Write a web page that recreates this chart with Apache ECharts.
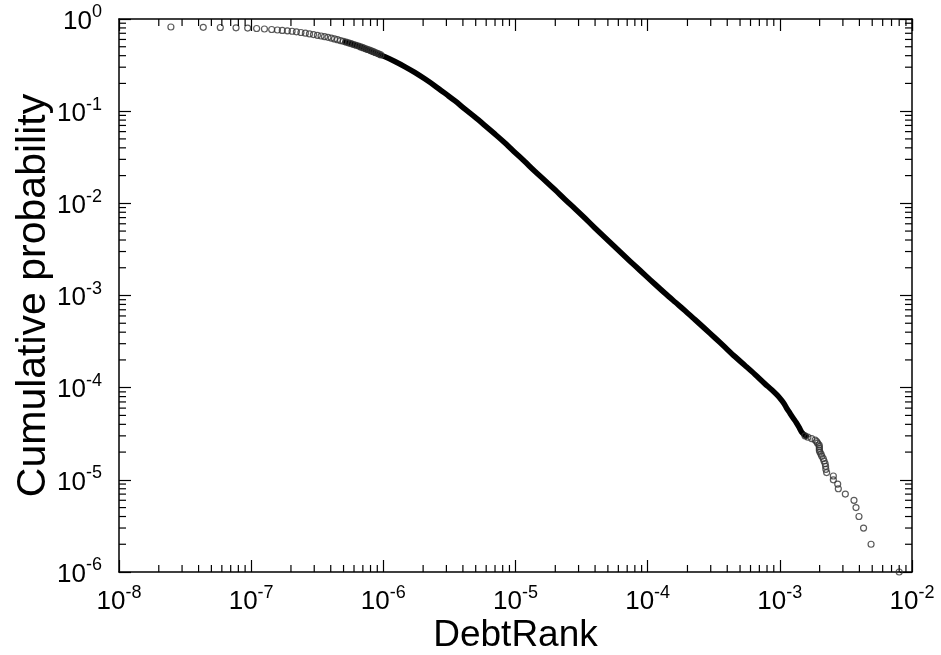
<!DOCTYPE html>
<html>
<head>
<meta charset="utf-8">
<script src="https://cdn.jsdelivr.net/npm/echarts@6/dist/echarts.min.js"></script>
<style>html,body{margin:0;padding:0;background:#fff;}#c{width:941px;height:655px;}</style>
</head>
<body>
<div id="c"></div>
<script>
// ---- data ----
const headX = [2.47e-8, 4.34e-8, 5.84e-8, 7.68e-8, 9.41e-8, 1.10e-7, 1.26e-7, 1.43e-7, 1.58e-7, 1.72e-7,
  1.88e-7, 2.04e-7, 2.20e-7, 2.38e-7, 2.57e-7, 2.76e-7, 2.96e-7, 3.17e-7, 3.38e-7, 3.59e-7,
  3.81e-7, 4.04e-7, 4.27e-7, 4.50e-7, 4.74e-7, 4.98e-7, 5.22e-7, 5.46e-7, 5.71e-7, 5.97e-7,
  6.22e-7, 6.49e-7, 6.75e-7, 7.02e-7, 7.29e-7, 7.56e-7, 7.85e-7, 8.12e-7, 8.41e-7, 8.69e-7,
  8.99e-7, 9.27e-7, 9.57e-7];
const headY = [0.819, 0.813, 0.809, 0.803, 0.797, 0.789, 0.779, 0.769, 0.760, 0.752,
  0.745, 0.736, 0.726, 0.714, 0.701, 0.689, 0.677, 0.665, 0.654, 0.643,
  0.632, 0.621, 0.608, 0.596, 0.584, 0.573, 0.562, 0.551, 0.540, 0.529,
  0.519, 0.508, 0.498, 0.488, 0.478, 0.469, 0.460, 0.451, 0.442, 0.433,
  0.424, 0.416, 0.408];
const bodyX = [5.13e-7, 6.10e-7, 7.27e-7, 8.65e-7, 1.03e-6, 1.225e-6, 1.46e-6, 1.74e-6, 2.07e-6, 2.46e-6,
  3.02e-6, 3.49e-6, 4.15e-6, 4.94e-6, 5.88e-6, 7.00e-6, 8.33e-6, 9.91e-6, 1.18e-5, 1.40e-5,
  1.67e-5, 1.99e-5, 2.37e-5, 2.82e-5, 3.36e-5, 3.99e-5, 4.75e-5, 5.66e-5, 6.74e-5, 8.02e-5,
  9.54e-5, 1.14e-4, 1.35e-4, 1.61e-4, 1.92e-4, 2.28e-4, 2.71e-4, 3.23e-4, 3.85e-4, 4.58e-4,
  5.45e-4, 6.49e-4, 7.72e-4, 8.72e-4, 9.52e-4, 1.02e-3, 1.075e-3, 1.13e-3, 1.19e-3, 1.26e-3,
  1.33e-3, 1.40e-3, 1.46e-3, 1.52e-3, 1.58e-3];
const bodyY = [0.566, 0.524, 0.474, 0.429, 0.389, 0.346, 0.303, 0.262, 0.223, 0.188,
  0.151, 0.129, 0.105, 0.086, 0.0697, 0.0563, 0.0452, 0.0357, 0.0282, 0.0223,
  0.0177, 0.0140, 0.0110, 0.00873, 0.00688, 0.00541, 0.00427, 0.00336, 0.00265, 0.00210,
  0.00167, 0.00132, 0.00106, 8.50e-4, 6.83e-4, 5.47e-4, 4.37e-4, 3.47e-4, 2.74e-4, 2.17e-4,
  1.74e-4, 1.39e-4, 1.10e-4, 9.44e-5, 8.33e-5, 7.44e-5, 6.74e-5, 5.94e-5, 5.31e-5, 4.69e-5,
  4.19e-5, 3.70e-5, 3.30e-5, 3.10e-5, 2.97e-5];
const tailX = [1.55e-3, 1.63e-3, 1.74e-3, 1.85e-3, 1.90e-3, 1.93e-3, 1.98e-3, 1.99e-3, 1.99e-3, 1.99e-3,
  2.01e-3, 2.05e-3, 2.08e-3, 2.13e-3, 2.16e-3, 2.20e-3, 2.22e-3, 2.23e-3, 2.26e-3, 2.54e-3,
  2.54e-3, 2.74e-3, 2.77e-3, 3.13e-3, 3.64e-3, 3.77e-3, 3.97e-3, 4.30e-3, 4.90e-3, 8.0e-3];
const tailY = [30e-6, 29e-6, 28e-6, 27e-6, 26e-6, 25e-6, 24e-6, 23e-6, 22e-6, 21e-6,
  20e-6, 19e-6, 18e-6, 17e-6, 16e-6, 15e-6, 14e-6, 13e-6, 12e-6, 11e-6,
  10e-6, 9e-6, 8e-6, 7e-6, 6e-6, 5e-6, 4e-6, 3e-6, 2e-6, 1e-6];
const xTickExponents = [-8, -7, -6, -5, -4, -3, -2];
const yTickExponents = [-6, -5, -4, -3, -2, -1, 0];
const xTitle = 'DebtRank';
const yTitle = 'Cumulative probability';

// ---- chart ----
const X_MIN = Math.pow(10, xTickExponents[0]), X_MAX = Math.pow(10, xTickExponents[xTickExponents.length - 1]);
const Y_MIN = Math.pow(10, yTickExponents[0]), Y_MAX = Math.pow(10, yTickExponents[yTickExponents.length - 1]);
const FONT = '"Liberation Sans", Arial, Helvetica, sans-serif';

function minorValues(exps) {
  const out = [];
  for (let i = 0; i < exps.length - 1; i++) {
    for (let k = 2; k <= 9; k++) out.push(k * Math.pow(10, exps[i]));
  }
  return out;
}
const xMinor = minorValues(xTickExponents);
const yMinor = minorValues(yTickExponents);

function labelFmt(exps) {
  return function (v) {
    const e = Math.round(Math.log10(v));
    const idx = exps.indexOf(e);
    if (idx < 0) return '';
    return '{b|10}{s|' + exps[idx] + '}';
  };
}
const rich = {
  b: { fontSize: 26, fontFamily: FONT, color: '#000', verticalAlign: 'bottom' },
  s: { fontSize: 18, fontFamily: FONT, color: '#000', verticalAlign: 'bottom', padding: [0, 0, 13, 0] }
};
const lineStyle = { color: '#000', width: 1.5 };
const tickStyle = { color: '#000', width: 1.2 };

function pairs(xs, ys) { return xs.map((x, i) => [x, ys[i]]); }

const chart = echarts.init(document.getElementById('c'), null, { renderer: 'canvas' });
chart.setOption({
  animation: false,
  backgroundColor: '#fff',
  grid: { left: 119, top: 19, width: 793, height: 553, containLabel: false, outerBoundsMode: 'none' },
  xAxis: [
    {
      type: 'log', logBase: 10, min: X_MIN, max: X_MAX, interval: 1, position: 'bottom',
      name: xTitle, nameLocation: 'middle', nameGap: 45, nameMoveOverlap: false,
      nameTextStyle: { fontSize: 37, fontFamily: FONT, color: '#000' },
      axisLine: { show: true, lineStyle: lineStyle },
      axisTick: { show: true, inside: true, length: 12, lineStyle: tickStyle },
      axisLabel: { show: true, margin: 12, formatter: labelFmt(xTickExponents), rich: rich, showMinLabel: true, showMaxLabel: true, hideOverlap: false },
      splitLine: { show: false }
    },
    {
      type: 'log', logBase: 10, min: X_MIN, max: X_MAX, interval: 1, position: 'top',
      axisLine: { show: true, lineStyle: lineStyle },
      axisTick: { show: true, inside: true, length: 12, lineStyle: tickStyle },
      axisLabel: { show: false }, splitLine: { show: false }
    }
  ],
  yAxis: [
    {
      type: 'log', logBase: 10, min: Y_MIN, max: Y_MAX, interval: 1, position: 'left',
      name: yTitle, nameLocation: 'middle', nameGap: 65, nameRotate: 90, nameMoveOverlap: false,
      nameTextStyle: { fontSize: 41, fontFamily: FONT, color: '#000' },
      axisLine: { show: true, lineStyle: lineStyle },
      axisTick: { show: true, inside: true, length: 12, lineStyle: tickStyle },
      axisLabel: { show: true, margin: 17, formatter: labelFmt(yTickExponents), rich: rich, showMinLabel: true, showMaxLabel: true, hideOverlap: false },
      splitLine: { show: false }
    },
    {
      type: 'log', logBase: 10, min: Y_MIN, max: Y_MAX, interval: 1, position: 'right',
      axisLine: { show: true, lineStyle: lineStyle },
      axisTick: { show: true, inside: true, length: 12, lineStyle: tickStyle },
      axisLabel: { show: false }, splitLine: { show: false }
    }
  ],
  series: [
    {
      type: 'custom', name: 'xminor', silent: true, clip: false, z: 5,
      data: xMinor.map(v => [v, Y_MIN]),
      renderItem: function (params, api) {
        const v = api.value(0);
        const b = api.coord([v, Y_MIN]);
        const t = api.coord([v, Y_MAX]);
        return { type: 'group', children: [
          { type: 'line', shape: { x1: b[0], y1: b[1], x2: b[0], y2: b[1] - 7 }, style: { stroke: '#000', lineWidth: 1.2 } },
          { type: 'line', shape: { x1: t[0], y1: t[1], x2: t[0], y2: t[1] + 7 }, style: { stroke: '#000', lineWidth: 1.2 } }
        ] };
      }
    },
    {
      type: 'custom', name: 'yminor', silent: true, clip: false, z: 5,
      data: yMinor.map(v => [X_MIN, v]),
      renderItem: function (params, api) {
        const v = api.value(1);
        const l = api.coord([X_MIN, v]);
        const r = api.coord([X_MAX, v]);
        return { type: 'group', children: [
          { type: 'line', shape: { x1: l[0], y1: l[1], x2: l[0] + 7, y2: l[1] }, style: { stroke: '#000', lineWidth: 1.2 } },
          { type: 'line', shape: { x1: r[0], y1: r[1], x2: r[0] - 7, y2: r[1] }, style: { stroke: '#000', lineWidth: 1.2 } }
        ] };
      }
    },
    {
      type: 'line', name: 'body', data: pairs(bodyX, bodyY),
      showSymbol: false, symbol: 'none', smooth: 0.3, clip: false,
      lineStyle: { color: '#000', width: 5.5, cap: 'round', join: 'round' }, z: 3
    },
    {
      type: 'scatter', name: 'points', data: pairs(headX, headY).concat(pairs(tailX, tailY)),
      symbol: 'circle', symbolSize: 6, clip: false,
      itemStyle: { color: 'rgba(255,255,255,0)', borderColor: '#333', borderWidth: 1.2 }, z: 4
    }
  ]
});
</script>
</body>
</html>
